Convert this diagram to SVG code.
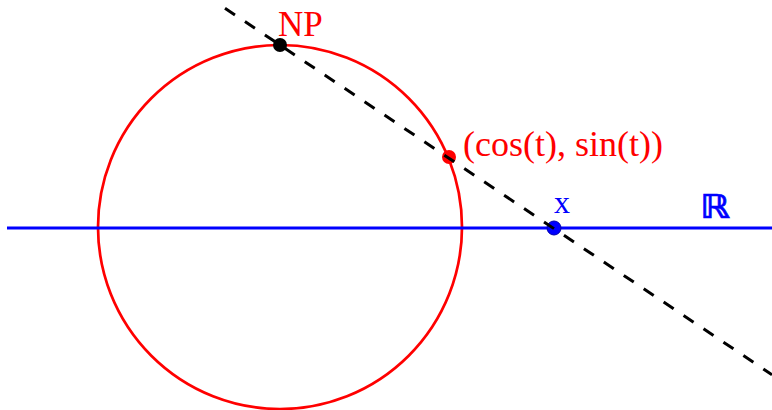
<svg xmlns="http://www.w3.org/2000/svg" width="772" height="410" viewBox="0 0 772 410">
<style>
.lbl{font-family:"Liberation Serif","Times New Roman",serif}
.red{fill:#ff0000}
.blue{fill:#0000ff}
</style>
<rect width="772" height="410" fill="#ffffff"/>
<g id="circle">
<circle cx="280" cy="227" r="182" fill="none" stroke="#ff0000" stroke-width="2.7"/>
</g>
<g id="real-line">
<line x1="7" y1="228" x2="772" y2="228" stroke="#0000ff" stroke-width="3"/>
<text x="700" y="218" font-size="33" font-weight="bold" fill="#0000ff" stroke="#0000ff" stroke-width="0.6" textLength="30" lengthAdjust="spacingAndGlyphs" font-family="'DejaVu Serif','DejaVu Sans',serif">ℝ</text>
</g>
<g id="point-x">
<circle cx="554" cy="228" r="7" fill="#0000ff" stroke="#0000aa" stroke-width="1"/>
<text class="lbl blue" x="554" y="213" font-size="32">x</text>
</g>
<g id="point-np">
<circle cx="280" cy="45" r="7" fill="#000000"/>
<text class="lbl red" x="278" y="36" font-size="35">NP</text>
</g>
<g id="point-t">
<circle cx="449" cy="157" r="7" fill="#ff0000"/>
<text class="lbl red" x="463" y="156" font-size="36">(cos(t), sin(t))</text>
</g>
<g id="connectors">
<line x1="225" y1="8.2" x2="772" y2="374.7" stroke="#000000" stroke-width="3" stroke-dasharray="12 12"/>
</g>
</svg>
